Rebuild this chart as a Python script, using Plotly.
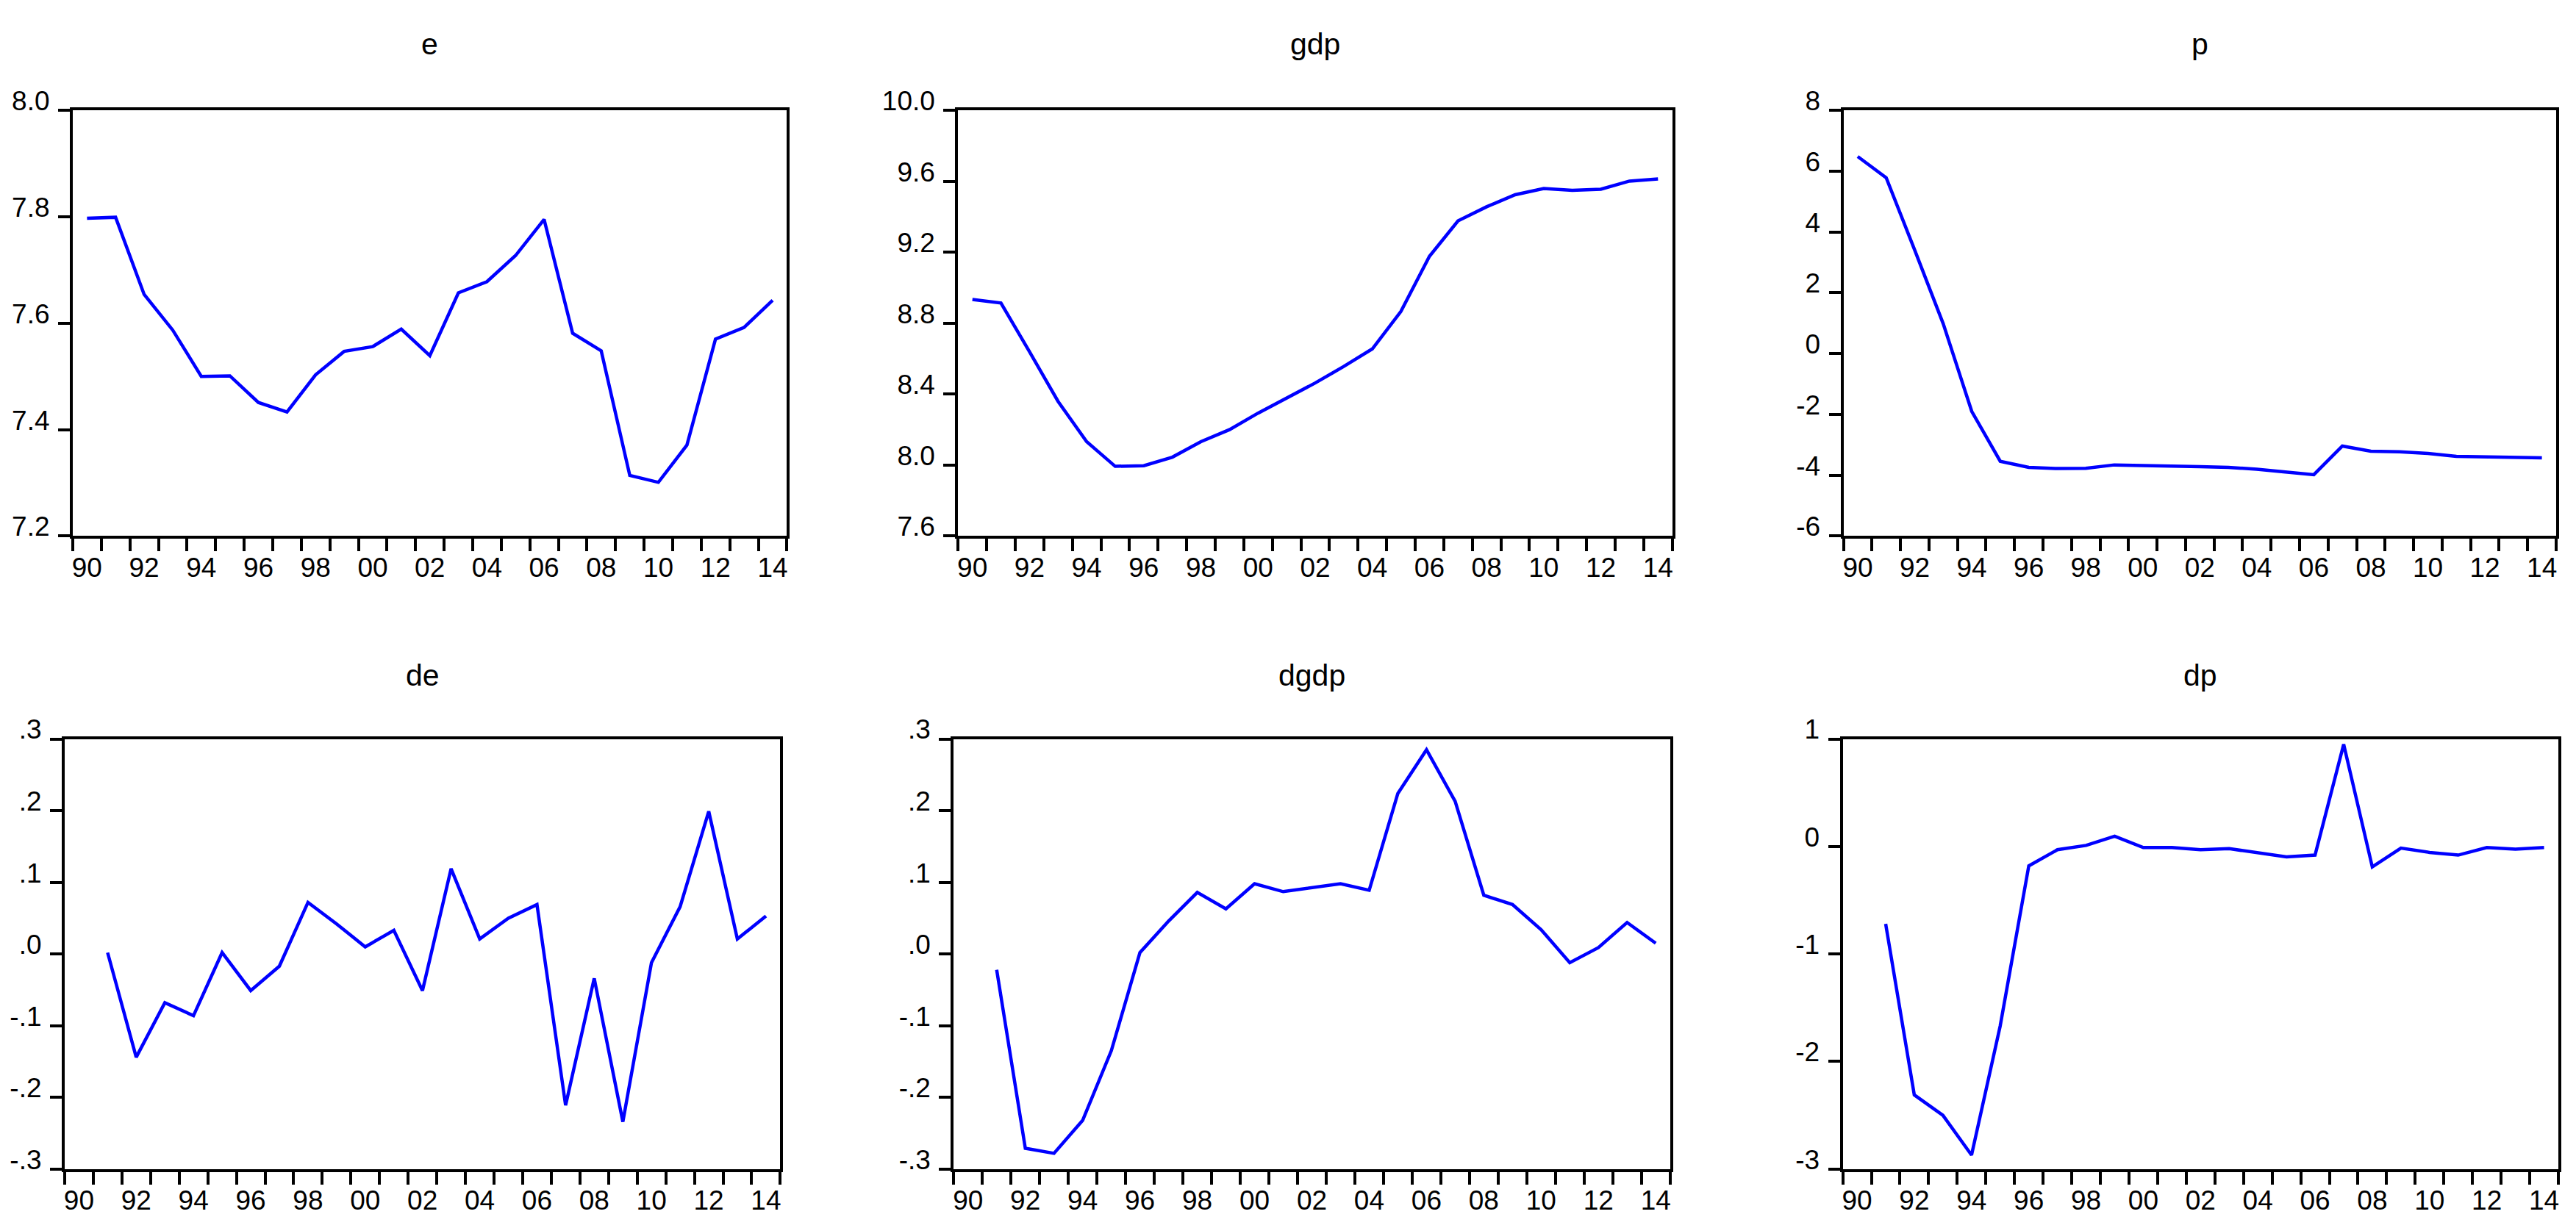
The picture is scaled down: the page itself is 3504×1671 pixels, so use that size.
import plotly.graph_objects as go

years = list(range(1990, 2015))
years_d = list(range(1991, 2015))

e = [7.797, 7.799, 7.654, 7.587, 7.500, 7.501, 7.451, 7.433, 7.503, 7.547, 7.556, 7.589,
     7.539, 7.657, 7.678, 7.727, 7.795, 7.581, 7.548, 7.314, 7.301, 7.371, 7.570, 7.592, 7.643]
gdp = [8.934, 8.914, 8.639, 8.359, 8.132, 7.993, 7.997, 8.045, 8.132, 8.200, 8.293, 8.376,
       8.463, 8.556, 8.655, 8.866, 9.177, 9.377, 9.456, 9.524, 9.559, 9.549, 9.555, 9.601, 9.613]
p = [6.48, 5.78, 3.40, 0.98, -1.90, -3.54, -3.74, -3.78, -3.77, -3.66, -3.68, -3.69,
     -3.72, -3.74, -3.80, -3.89, -3.98, -3.04, -3.21, -3.23, -3.28, -3.38, -3.39, -3.42, -3.43]
de = [0.002, -0.144, -0.068, -0.086, 0.002, -0.051, -0.017, 0.072, 0.042, 0.010, 0.033, -0.051,
      0.119, 0.021, 0.050, 0.069, -0.211, -0.034, -0.234, -0.012, 0.066, 0.199, 0.021, 0.053]
dgdp = [-0.022, -0.271, -0.278, -0.232, -0.135, 0.002, 0.046, 0.086, 0.063, 0.098, 0.087, 0.093,
        0.098, 0.089, 0.224, 0.285, 0.213, 0.082, 0.069, 0.034, -0.012, 0.009, 0.044, 0.015]
dp = [-0.72, -2.31, -2.50, -2.87, -1.67, -0.18, -0.03, 0.01, 0.095, -0.01, -0.01, -0.03,
      -0.02, -0.06, -0.097, -0.08, 0.95, -0.19, -0.015, -0.055, -0.08, -0.01, -0.025, -0.01]

titles = ["e", "gdp", "p", "de", "dgdp", "dp"]
xlabel_vals = list(range(1990, 2015, 2))
xlabel_text = ["%02d" % (y % 100) for y in xlabel_vals]

ytick_sets = [
    ([7.2, 7.4, 7.6, 7.8, 8.0], ["7.2", "7.4", "7.6", "7.8", "8.0"]),
    ([7.6, 8.0, 8.4, 8.8, 9.2, 9.6, 10.0], ["7.6", "8.0", "8.4", "8.8", "9.2", "9.6", "10.0"]),
    ([-6, -4, -2, 0, 2, 4, 6, 8], ["-6", "-4", "-2", "0", "2", "4", "6", "8"]),
    ([-0.3, -0.2, -0.1, 0.0, 0.1, 0.2, 0.3], ["-.3", "-.2", "-.1", ".0", ".1", ".2", ".3"]),
    ([-0.3, -0.2, -0.1, 0.0, 0.1, 0.2, 0.3], ["-.3", "-.2", "-.1", ".0", ".1", ".2", ".3"]),
    ([-3, -2, -1, 0, 1], ["-3", "-2", "-1", "0", "1"]),
]
yranges = [[7.2, 8.0], [7.6, 10.0], [-6, 8], [-0.3, 0.3], [-0.3, 0.3], [-3, 1]]

W, H = 3504, 1671
xdom_px = [(98, 1070), (1303, 2275), (2508, 3478), (87, 1061), (1297, 2272), (2507, 3481)]
ydom_px = [(120, 714), (120, 714), (120, 714), (997, 1597), (997, 1597), (997, 1597)]

series = [(years, e), (years, gdp), (years, p), (years_d, de), (years_d, dgdp), (years_d, dp)]

FONT = "Liberation Sans, Arial, sans-serif"
fig = go.Figure()
layout = dict(
    width=W, height=H, margin=dict(l=0, r=0, t=0, b=0),
    paper_bgcolor="white", plot_bgcolor="white", showlegend=False,
    font=dict(family=FONT, size=34, color="black"),
)
annotations = []
for i in range(6):
    n = i + 1
    xs, ys = series[i]
    fig.add_trace(go.Scatter(x=xs, y=ys, mode="lines",
                             line=dict(color="#0000FF", width=4.5),
                             xaxis="x%d" % n, yaxis="y%d" % n))
    x0, x1 = xdom_px[i]
    y0, y1 = ydom_px[i]
    xd = [x0 / W, x1 / W]
    yd = [1 - y1 / H, 1 - y0 / H]
    layout["xaxis%d" % n] = dict(
        domain=xd, anchor="y%d" % n, range=[1989.5, 2014.5],
        showgrid=False, zeroline=False, showline=True, linecolor="black", linewidth=4,
        mirror=True, tickmode="array", tickvals=xlabel_vals, ticktext=xlabel_text,
        ticks="", ticklabelstandoff=7,
        tickfont=dict(family=FONT, size=37, color="black"),
        minor=dict(tickmode="array", tickvals=[y - 0.5 for y in range(1990, 2016)],
                   ticks="outside", ticklen=17, tickwidth=4, tickcolor="black", showgrid=False),
    )
    tv, tt = ytick_sets[i]
    layout["yaxis%d" % n] = dict(
        domain=yd, anchor="x%d" % n, range=yranges[i],
        showgrid=False, zeroline=False, showline=True, linecolor="black", linewidth=4,
        mirror=True, tickmode="array", tickvals=tv, ticktext=tt,
        ticks="outside", ticklen=16, tickwidth=4, tickcolor="black",
        ticklabelshift=-13, ticklabelstandoff=4,
        tickfont=dict(family=FONT, size=37, color="black"),
    )
    ty = 28 if i < 3 else 908
    annotations.append(dict(text=titles[i], x=(xd[0] + xd[1]) / 2, y=1 - ty / H,
                            xref="paper", yref="paper", showarrow=False,
                            xanchor="center", yanchor="middle",
                            font=dict(family=FONT, size=41, color="black")))
layout["annotations"] = annotations
fig.update_layout(**layout)
fig.write_html("out.html", config={"displayModeBar": False},
               post_script="document.body.style.margin='0px';document.body.style.overflow='hidden';")
